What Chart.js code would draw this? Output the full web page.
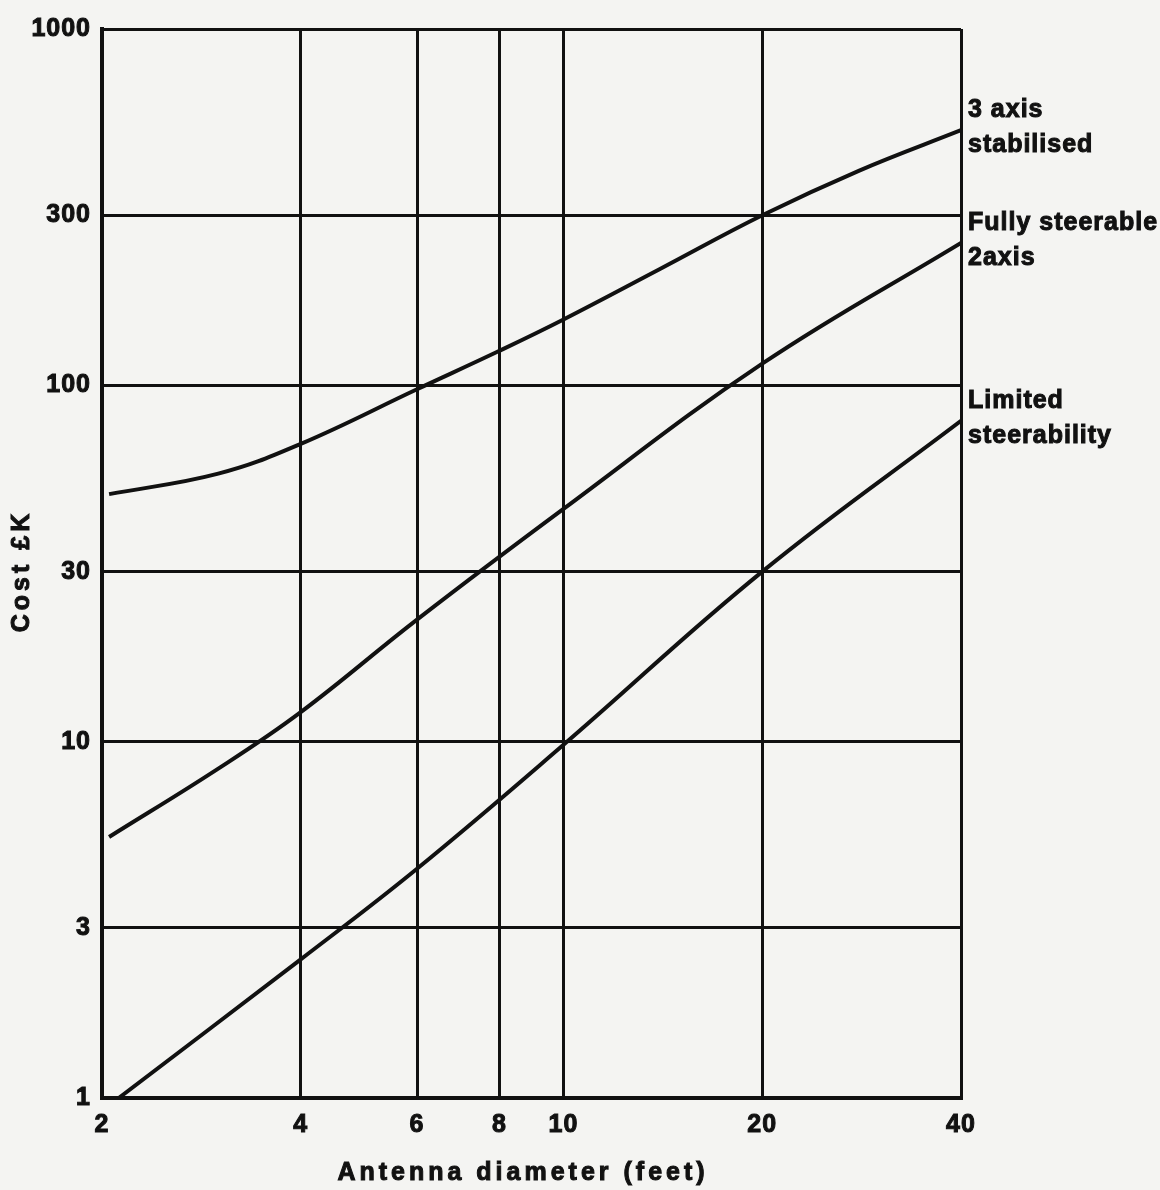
<!DOCTYPE html>
<html>
<head>
<meta charset="utf-8">
<script src="https://cdn.jsdelivr.net/npm/chart.js@4.4.1/dist/chart.umd.min.js"></script>
<style>
  html, body { margin: 0; padding: 0; background: #f4f4f2; }
  canvas { display: block; }
</style>
</head>
<body>
<canvas id="cost_chart" width="1160" height="1190"></canvas>
<script>
// values
const xTicks = [2, 4, 6, 8, 10, 20, 40];
const yTicks = [1, 3, 10, 30, 100, 300, 1000];

const stabilisedX = [2.05, 3, 4, 6, 8, 10, 14, 20, 28, 40];
const stabilisedY = [49.5, 56.5, 68.5, 97.5, 125, 153, 212, 300, 400, 520];

const steerableX = [2.05, 3, 4, 6, 10, 20, 40];
const steerableY = [5.4, 8.4, 12.1, 22, 45, 115, 251];

const limitedX = [2.12, 4, 6, 10, 20, 40];
const limitedY = [1, 2.45, 4.4, 9.8, 30, 79.5];

const seriesLabels = [
  ['3 axis', 'stabilised'],
  ['Fully steerable', '2axis'],
  ['Limited', 'steerability']
];

const xTitle = 'Antenna diameter (feet)';
const yTitle = 'Cost £K';

const ink = '#111';
const face = "'Liberation Sans', Arial, sans-serif";
const bold = (size) => ({ family: face, size: size, weight: 'bold' });

const points = (xs, ys) => xs.map((x, i) => ({ x: x, y: ys[i] }));

const line = (xs, ys) => ({
  data: points(xs, ys),
  borderColor: ink,
  borderWidth: 4,
  pointRadius: 0,
  tension: 0.4,
  fill: false
});

// spaced-out lettering like the stencilled original
const spacing = {
  id: 'spacing',
  beforeDraw: (chart) => { chart.ctx.letterSpacing = '1px'; }
};

const heavyText = (ctx, text, x, y) => {
  ctx.strokeText(text, x, y);
  ctx.fillText(text, x, y);
};

// curve names beside the curve ends, and the two axis titles
const annotations = {
  id: 'annotations',
  afterDraw: (chart) => {
    const { ctx, chartArea, scales } = chart;
    ctx.save();
    ctx.fillStyle = ink;
    ctx.strokeStyle = ink;
    ctx.lineWidth = 1;
    ctx.font = 'bold 25px ' + face;
    ctx.letterSpacing = '1px';
    ctx.textAlign = 'left';
    ctx.textBaseline = 'middle';
    chart.data.datasets.forEach((ds, i) => {
      const last = ds.data[ds.data.length - 1];
      const y = scales.y.getPixelForValue(last.y);
      const [first, second] = seriesLabels[i];
      heavyText(ctx, first, chartArea.right + 7, y - 20);
      heavyText(ctx, second, chartArea.right + 7, y + 15);
    });

    ctx.letterSpacing = '4px';
    ctx.textAlign = 'center';
    heavyText(ctx, xTitle, 523, 1173);

    ctx.translate(22, 571);
    ctx.rotate(-Math.PI / 2);
    heavyText(ctx, yTitle, 0, 0);
    ctx.restore();
  }
};

new Chart('cost_chart', {
  type: 'line',
  plugins: [spacing, annotations],
  data: {
    datasets: [
      line(stabilisedX, stabilisedY),
      line(steerableX, steerableY),
      line(limitedX, limitedY)
    ]
  },
  options: {
    responsive: false,
    animation: false,
    devicePixelRatio: 1,
    layout: { padding: { left: 0, right: 199, top: 29, bottom: 0 } },
    plugins: {
      legend: { display: false },
      tooltip: { enabled: false }
    },
    scales: {
      x: {
        type: 'logarithmic',
        min: 2,
        max: 40,
        afterBuildTicks: (scale) => { scale.ticks = xTicks.map(v => ({ value: v })); },
        afterFit: (scale) => { scale.height = 92; },
        ticks: {
          color: ink,
          font: bold(25),
          padding: 12,
          maxRotation: 0,
          autoSkip: false,
          textStrokeColor: ink,
          textStrokeWidth: 1,
          callback: (v) => String(v)
        },
        grid: { color: ink, lineWidth: 3, drawTicks: false },
        border: { display: true, color: ink, width: 4 }
      },
      y: {
        type: 'logarithmic',
        min: 1,
        max: 1000,
        afterBuildTicks: (scale) => { scale.ticks = yTicks.map(v => ({ value: v })); },
        afterFit: (scale) => { scale.width = 102; },
        ticks: {
          color: ink,
          font: bold(25),
          padding: 11,
          autoSkip: false,
          textStrokeColor: ink,
          textStrokeWidth: 1,
          callback: (v) => String(v)
        },
        grid: { color: ink, lineWidth: 3, drawTicks: false },
        border: { display: true, color: ink, width: 4 }
      }
    }
  }
});
</script>
</body>
</html>
